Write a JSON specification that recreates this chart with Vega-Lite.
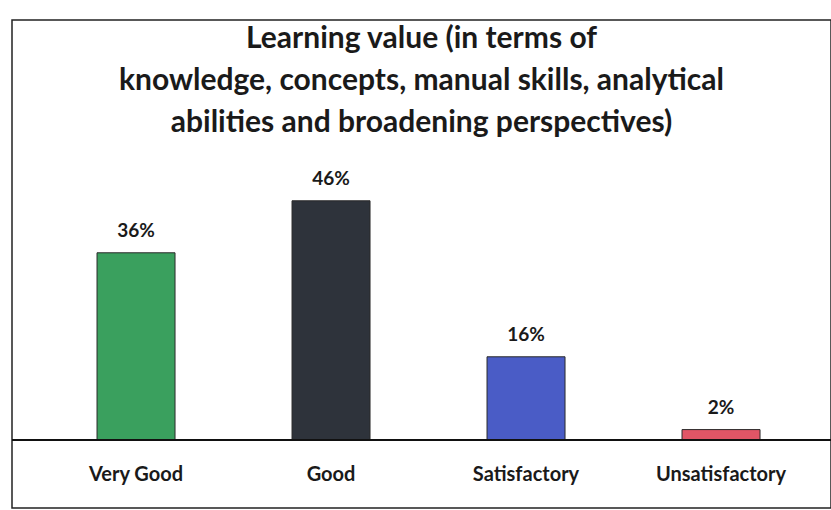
{
  "$schema": "https://vega.github.io/schema/vega-lite/v6.json",
  "width": 819,
  "height": 488,
  "autosize": "none",
  "padding": {"left": 12, "top": 20, "right": 0, "bottom": 2},
  "background": "white",
  "config": {"view": {"stroke": "#222", "strokeWidth": 1.5}, "font": "Lato"},
  "title": {
    "text": ["Learning value (in terms of", "knowledge, concepts, manual skills, analytical", "abilities and broadening perspectives)"],
    "font": "Lato",
    "fontSize": 30,
    "fontWeight": "bold",
    "color": "#1a1a1a",
    "lineHeight": 42,
    "anchor": "middle",
    "frame": "group",
    "baseline": "top",
    "offset": -118
  },
  "data": {
    "values": [
      {"rating": "Very Good", "pct": 36, "label": "36%"},
      {"rating": "Good", "pct": 46, "label": "46%"},
      {"rating": "Satisfactory", "pct": 16, "label": "16%"},
      {"rating": "Unsatisfactory", "pct": 2, "label": "2%"}
    ]
  },
  "encoding": {
    "x": {
      "field": "rating",
      "type": "nominal",
      "sort": null,
      "scale": {"paddingInner": 0.6, "paddingOuter": 0.4, "align": 0.545},
      "axis": null
    },
    "y": {
      "field": "pct",
      "type": "quantitative",
      "scale": {"domain": [-13.08, 80.77], "nice": false, "zero": false},
      "axis": null
    }
  },
  "layer": [
    {
      "mark": {"type": "bar", "stroke": "#2a2a2a", "strokeWidth": 1},
      "encoding": {
        "color": {
          "field": "rating",
          "type": "nominal",
          "sort": null,
          "scale": {"domain": ["Very Good", "Good", "Satisfactory", "Unsatisfactory"], "range": ["#3aa05e", "#2e333b", "#4a5cc6", "#e05566"]},
          "legend": null
        }
      }
    },
    {
      "mark": {"type": "rule", "color": "#111", "strokeWidth": 2},
      "encoding": {"x": null, "y": {"datum": 0}}
    },
    {
      "mark": {"type": "text", "baseline": "bottom", "dy": -12, "font": "Lato", "fontSize": 19, "fontWeight": "bold", "color": "#1a1a1a"},
      "encoding": {"text": {"field": "label"}}
    },
    {
      "mark": {"type": "text", "baseline": "middle", "font": "Lato", "fontSize": 20, "fontWeight": "bold", "color": "#1a1a1a"},
      "encoding": {"text": {"field": "rating"}, "y": {"datum": -6.7}}
    }
  ]
}
